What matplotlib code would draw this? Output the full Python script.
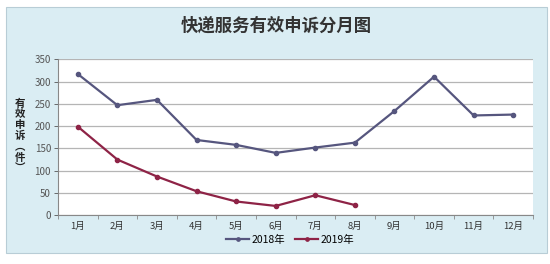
import numpy as np
import matplotlib
matplotlib.use("Agg")
import matplotlib.pyplot as plt
from matplotlib.patches import Rectangle

plt.rcParams['font.family'] = ['Noto Sans CJK SC', 'DejaVu Sans']

MONTHS = [f"{i}月" for i in range(1, 13)]
V2018 = [317, 247, 259, 169, 158, 140, 152, 163, 234, 311, 224, 226]
V2019 = [199, 125, 87, 54, 31, 21, 45, 23]
YTICKS = [0, 50, 100, 150, 200, 250, 300, 350]
C2018 = "#56567e"
C2019 = "#8e2346"
BG = "#daedf3"

W, H = 550, 264
fig = plt.figure(figsize=(W / 100, H / 100), dpi=100)
fig.patch.set_facecolor("white")

# outer chart box (behind the axes)
fig.patches.append(Rectangle((6 / W, 1 - 253 / H), 541 / W, 246 / H, transform=fig.transFigure,
                             facecolor=BG, edgecolor="#b8cdd6", lw=0.8, zorder=-5))

ax = fig.add_axes([58 / W, 1 - 215.3 / H, 475 / W, 156 / H])
ax.set_zorder(2)
ax.set_facecolor("white")
x = np.arange(len(MONTHS))
ax.plot(x, V2018, color=C2018, lw=1.6, marker="o", ms=3, label="2018年")
ax.plot(x[:len(V2019)], V2019, color=C2019, lw=1.6, marker="o", ms=3, label="2019年")

ax.set_xlim(-0.5, 11.5)
ax.set_ylim(0, 350)
ax.set_yticks(YTICKS)
ax.tick_params(axis="y", labelsize=7, colors="#555555", length=3, width=0.6, pad=2)
ax.set_xticks(x)
ax.set_xticklabels(MONTHS, fontsize=6.8)
ax.set_xticks(np.arange(-0.5, 12, 1), minor=True)
ax.tick_params(axis="x", which="major", length=0, pad=5, labelcolor="#333333")
ax.tick_params(axis="x", which="minor", length=3, width=0.6, color="#888888")
ax.grid(axis="y", color="#b5b5b5", lw=0.9)
ax.set_axisbelow(True)
for s in ["top", "right"]:
    ax.spines[s].set_visible(False)
for s in ["left", "bottom"]:
    ax.spines[s].set_color("#888888")
    ax.spines[s].set_linewidth(0.8)

fig.text(276 / W, 1 - 26 / H, "快递服务有效申诉分月图", ha="center", va="center",
         fontsize=12.5, fontweight="bold", color="#333333")
fig.text(20 / W, 1 - 136 / H, "有\n效\n申\n诉\n︵\n件\n︶", ha="center", va="center",
         fontsize=7.5, fontweight="bold", linespacing=1.1, color="#222222")

ax.legend(loc="center", bbox_to_anchor=(290 / W, 1 - 240 / H), bbox_transform=fig.transFigure,
          ncol=2, frameon=False, fontsize=7.5, handlelength=2.2, handletextpad=0.2,
          columnspacing=1.0, markerscale=0.8)

fig.savefig("out.png", dpi=100)
